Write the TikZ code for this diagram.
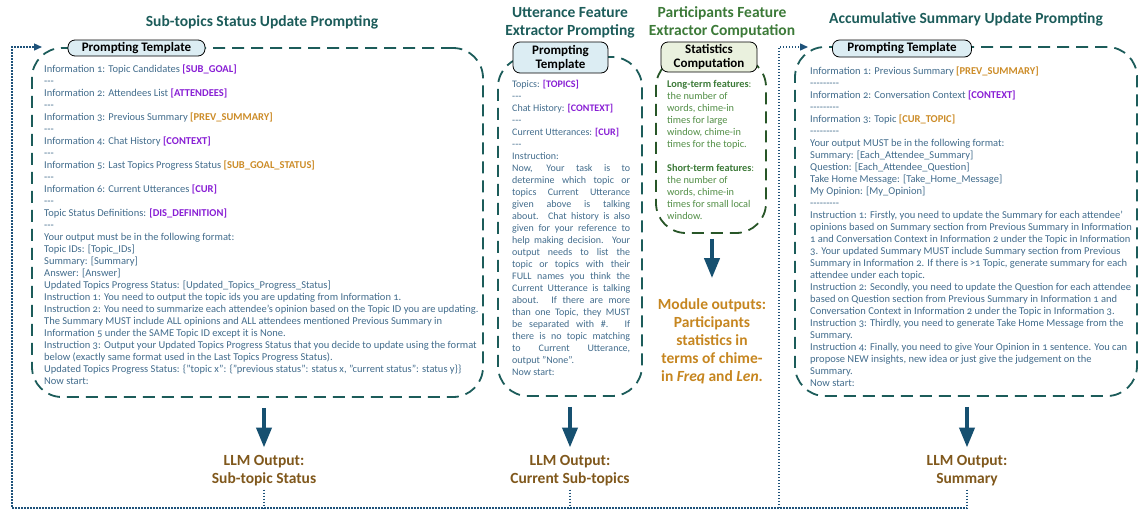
\documentclass[tikz,border=0pt]{standalone}
\usepackage{fontspec}
\setmainfont{Carlito}[Numbers=OldStyle]
\usetikzlibrary{arrows.meta}
\definecolor{bodytxt}{RGB}{66,108,140}
\definecolor{purp}{RGB}{136,30,212}
\definecolor{orng}{RGB}{204,140,40}
\definecolor{teal1}{RGB}{28,92,90}
\definecolor{grn1}{RGB}{60,122,56}
\definecolor{grntxt}{RGB}{82,142,70}
\definecolor{grnbox}{RGB}{40,86,40}
\definecolor{modout}{RGB}{198,134,32}
\definecolor{llmout}{RGB}{128,88,28}
\definecolor{lblue}{RGB}{220,237,243}
\definecolor{lgreen}{RGB}{234,241,222}
\definecolor{arrblue}{RGB}{22,80,112}
\definecolor{fbblue}{RGB}{30,82,122}
\newcommand{\pu}[1]{\textcolor{purp}{\textbf{#1}}}
\newcommand{\po}[1]{\textcolor{orng}{\textbf{#1}}}
\newcommand{\jl}[1]{\makebox[118pt][s]{#1}\\}
\newcommand{\hy}{{-}{-}{-}}
\newcommand{\hyl}{{-}{-}{-}{-}{-}{-}{-}{-}{-}}
\tikzset{
  panel/.style={draw=teal1, line width=1.8pt, dash pattern=on 12pt off 7pt, rounded corners=30pt, inner sep=0pt},
  gpanel/.style={panel, draw=grnbox},
  lbl/.style={draw=black, line width=0.8pt, fill=lblue, rounded corners=7pt, inner sep=0pt, font=\bfseries\fontsize{13}{14}\selectfont, align=center},
  glbl/.style={lbl, fill=lgreen},
  title/.style={font=\bfseries\fontsize{15.5}{18}\selectfont, text=teal1, align=center},
  gtitle/.style={title, text=grn1},
  body/.style={anchor=north west, inner sep=0pt, text=bodytxt, font=\fontsize{10.5}{12}\selectfont, align=left},
  outtxt/.style={font=\bfseries\fontsize{15.5}{18}\selectfont, text=llmout, align=center, inner sep=0pt},
  bigarr/.style={draw=arrblue, line width=4pt, -{Triangle[length=20pt,width=15pt]}},
  fb/.style={draw=fbblue, line width=1.4pt, dash pattern=on 1.4pt off 1.6pt},
  fbarr/.style={fb, -{Triangle[length=8pt,width=7pt]}}
}
\begin{document}
\begin{tikzpicture}[x=1pt,y=-1pt]
\useasboundingbox (0,0) rectangle (1142,512);

% titles
\node[title] (t1) at (262,22) {Sub-topics Status Update Prompting};
\node[title] (t2) at (570,22.5) {Utterance Feature\\Extractor Prompting};
\node[gtitle] (t4) at (722,22.5) {Participants Feature\\Extractor Computation};
\node[title] (t3) at (966,19) {Accumulative Summary Update Prompting};

% panels
\node[panel, minimum width=451pt, minimum height=349pt] (p1) at (257.5,222.5) {};
\node[panel, minimum width=144pt, minimum height=339pt] (p2) at (570,226.5) {};
\node[gpanel, minimum width=110pt, minimum height=176pt] (p4) at (711,145) {};
\node[panel, minimum width=342pt, minimum height=349pt] (p3) at (966,221.5) {};

% labels
\node[lbl, minimum width=137pt, minimum height=16pt] (l1) at (136.5,48) {Prompting Template};
\node[lbl, minimum width=95pt, minimum height=31pt] (l2) at (560.5,57.5) {Prompting\\Template};
\node[glbl, minimum width=96pt, minimum height=30pt] (l4) at (709,57) {Statistics\\Computation};
\node[lbl, minimum width=139pt, minimum height=17pt] (l3) at (902,48.5) {Prompting Template};

% left body
\node[body] (b1) at (44,65) {Information 1: Topic Candidates \pu{[SUB\_GOAL]}\\
\hy\\
Information 2: Attendees List \pu{[ATTENDEES]}\\
\hy\\
Information 3: Previous Summary \po{[PREV\_SUMMARY]}\\
\hy\\
Information 4: Chat History \pu{[CONTEXT]}\\
\hy\\
Information 5: Last Topics Progress Status \po{[SUB\_GOAL\_STATUS]}\\
\hy\\
Information 6: Current Utterances \pu{[CUR]}\\
\hy\\
Topic Status Definitions: \pu{[DIS\_DEFINITION]}\\
\hy\\
Your output must be in the following format:\\
Topic IDs: [Topic\_IDs]\\
Summary: [Summary]\\
Answer: [Answer]\\
Updated Topics Progress Status: [Updated\_Topics\_Progress\_Status]\\
Instruction 1: You need to output the topic ids you are updating from Information 1.\\
Instruction 2: You need to summarize each attendee's opinion based on the Topic ID you are updating.\\
The Summary MUST include ALL opinions and ALL attendees mentioned Previous Summary in\\
Information 5 under the SAME Topic ID except it is None.\\
Instruction 3: Output your Updated Topics Progress Status that you decide to update using the format\\
below (exactly same format used in the Last Topics Progress Status).\\
Updated Topics Progress Status: \{"topic x": \{"previous status": status x, "current status": status y\}\}\\
Now start:};

% middle body
\node[body, font=\fontsize{10}{12}\selectfont] (b2) at (512,80) {Topics: \pu{[TOPICS]}\\
\hy\\
Chat History: \pu{[CONTEXT]}\\
\hy\\
Current Utterances: \pu{[CUR]}\\
\hy\\
Instruction:\\
\jl{Now, Your task is to}
\jl{determine which topic or}
\jl{topics Current Utterance}
\jl{given above is talking}
\jl{about. Chat history is also}
\jl{given for your reference to}
\jl{help making decision. Your}
\jl{output needs to list the}
\jl{topic or topics with their}
\jl{FULL names you think the}
\jl{Current Utterance is talking}
\jl{about. If there are more}
\jl{than one Topic, they MUST}
\jl{be separated with \#. If}
\jl{there is no topic matching}
\jl{to Current Utterance,}
output "None".\\
Now start:};

% participants body
\node[body, text=grntxt, font=\fontsize{10.3}{12}\selectfont] (b4) at (667,80) {\textcolor{grn1}{\textbf{Long-term features}}:\\
the number of\\
words, chime-in\\
times for large\\
window, chime-in\\
times for the topic.\\[12pt]
\textcolor{grn1}{\textbf{Short-term features}}:\\
the number of\\
words, chime-in\\
times for small local\\
window.};

% right body
\node[body] (b3) at (810,67) {Information 1: Previous Summary \po{[PREV\_SUMMARY]}\\
\hyl\\
Information 2: Conversation Context \pu{[CONTEXT]}\\
\hyl\\
Information 3: Topic \po{[CUR\_TOPIC]}\\
\hyl\\
Your output MUST be in the following format:\\
Summary: [Each\_Attendee\_Summary]\\
Question: [Each\_Attendee\_Question]\\
Take Home Message: [Take\_Home\_Message]\\
My Opinion: [My\_Opinion]\\
\hyl\\
Instruction 1: Firstly, you need to update the Summary for each attendee'\\
opinions based on Summary section from Previous Summary in Information\\
1 and Conversation Context in Information 2 under the Topic in Information\\
3. Your updated Summary MUST include Summary section from Previous\\
Summary in Information 2. If there is >1 Topic, generate summary for each\\
attendee under each topic.\\
Instruction 2: Secondly, you need to update the Question for each attendee\\
based on Question section from Previous Summary in Information 1 and\\
Conversation Context in Information 2 under the Topic in Information 3.\\
Instruction 3: Thirdly, you need to generate Take Home Message from the\\
Summary.\\
Instruction 4: Finally, you need to give Your Opinion in 1 sentence. You can\\
propose NEW insights, new idea or just give the judgement on the\\
Summary.\\
Now start:};

% outputs
\node[outtxt] (o1) at (264,471) {LLM Output:\\Sub-topic Status};
\node[outtxt] (o2) at (570,471) {LLM Output:\\Current Sub-topics};
\node[outtxt] (o3) at (967,471) {LLM Output:\\Summary};
\node[outtxt, text=modout] (mo) at (712,341) {Module outputs:\\Participants\\statistics in\\terms of chime-\\in \textit{Freq} and \textit{Len}.};

% big arrows
\draw[bigarr, shorten <=10pt, shorten >=8pt] (p1.south -| o1.north) -- (o1.north);
\draw[bigarr, shorten <=10pt, shorten >=8pt] (p2.south -| o2.north) -- (o2.north);
\draw[bigarr, shorten <=10pt, shorten >=8pt] (p3.south -| o3.north) -- (o3.north);
\draw[bigarr, shorten <=5pt, shorten >=20pt] (p4.south -| mo.north) -- (mo.north);

% feedback dotted lines
\coordinate (fbL) at (12,508);
\coordinate (fbLt) at (12,47);
\coordinate (fbLe) at (42,47);
\coordinate (fbM) at (779,508);
\coordinate (fbMt) at (779,47);
\coordinate (fbMe) at (808,47);
\draw[fbarr, shorten <=3pt] (o3.south) |- (fbL) -- (fbLt) -- (fbLe);
\draw[fb, shorten <=3pt] (o1.south) -- (o1.south |- fbL);
\draw[fb, shorten <=3pt] (o2.south) -- (o2.south |- fbL);
\draw[fbarr] (fbM) -- (fbMt) -- (fbMe);
\end{tikzpicture}
\end{document}
